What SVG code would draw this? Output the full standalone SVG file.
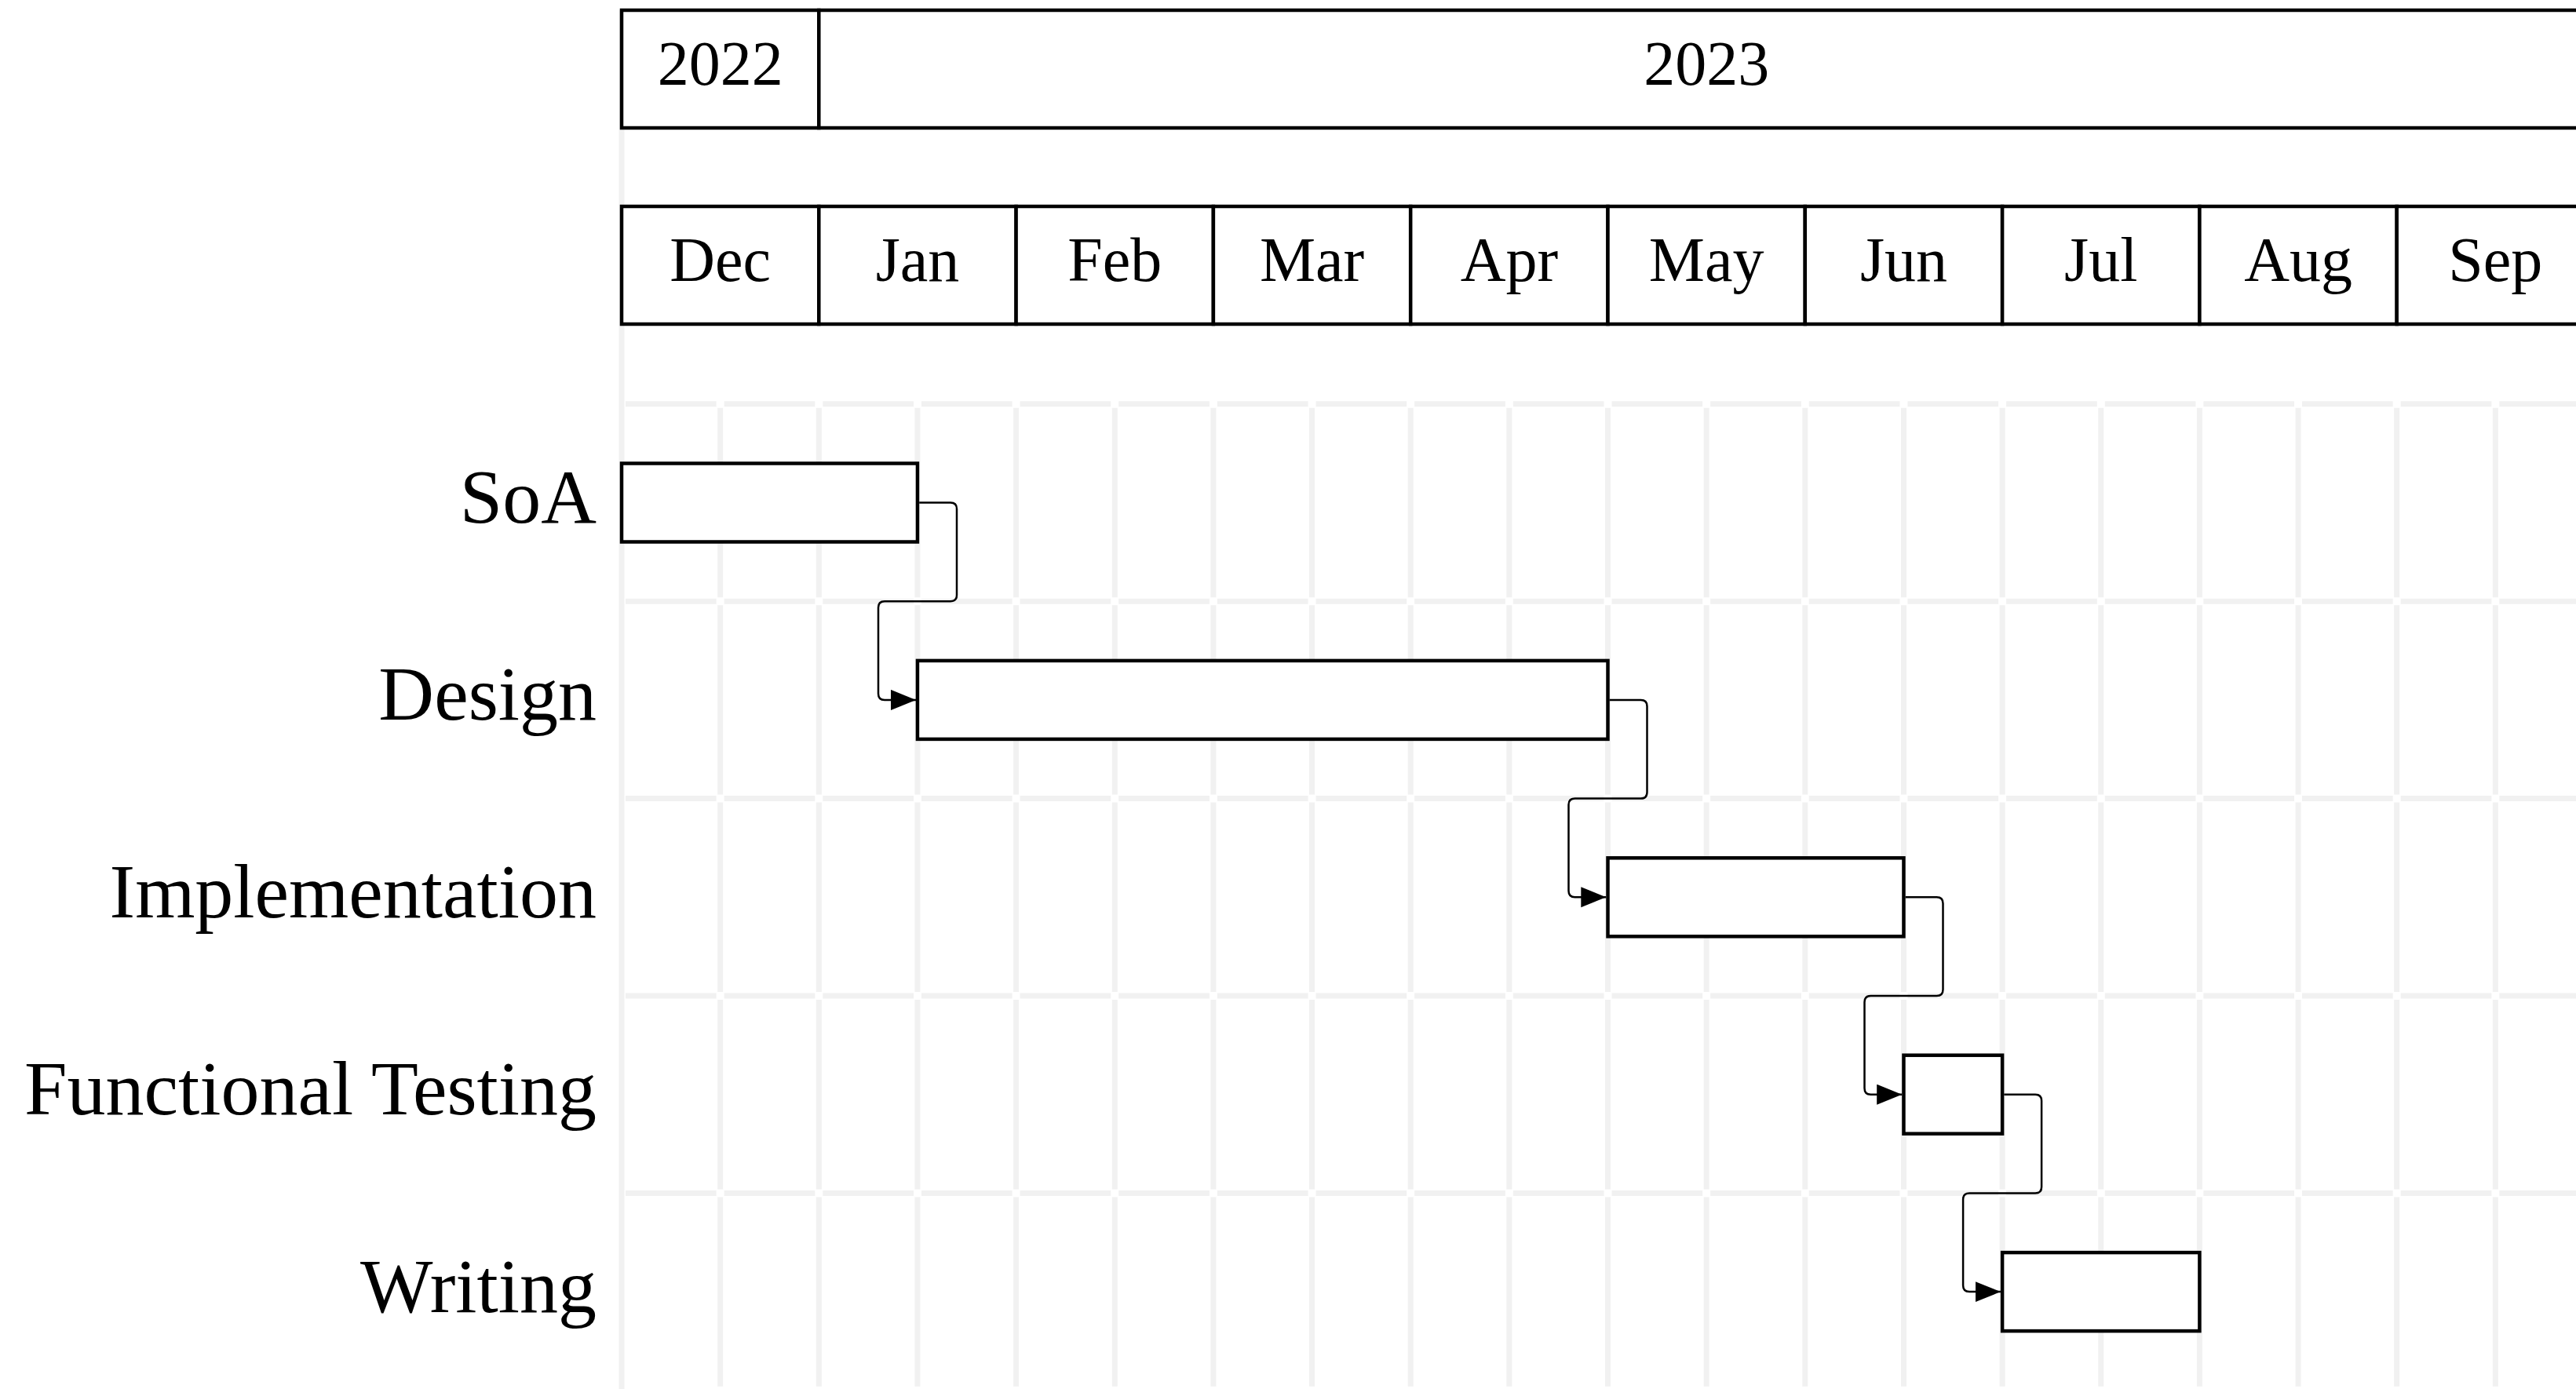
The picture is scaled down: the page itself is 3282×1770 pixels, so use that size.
<svg xmlns="http://www.w3.org/2000/svg" width="3282" height="1770" viewBox="0 0 3282 1770">
<style>
.grid{stroke:#f1f1f1;stroke-width:7;fill:none}
.vg{stroke-dasharray:241.4 10}
.hg{stroke-dasharray:115.65 10}
.hdr{fill:#fff;stroke:#000;stroke-width:4.5}
.bar{fill:#fff;stroke:#000;stroke-width:4.5}
.ht{font-family:"Liberation Serif",serif;font-size:80px;fill:#000;text-anchor:middle}
.lt{font-family:"Liberation Serif",serif;font-size:98px;fill:#000;text-anchor:end}
.con{fill:none;stroke:#000;stroke-width:2.5;stroke-linejoin:round}
</style>
<defs>
<marker id="arr" markerUnits="userSpaceOnUse" markerWidth="34" markerHeight="28" refX="32" refY="13" orient="auto">
<path d="M0,0 L32,13 L0,26 z" fill="#000"/>
</marker>
</defs>
<rect width="3282" height="1770" fill="#fff"/>
<g id="grid">
<line class="grid" x1="792" y1="13" x2="792" y2="1772"/>
<g class="grid vg">
<line x1="917.65" y1="519.8" x2="917.65" y2="1772"/>
<line x1="1043.3" y1="519.8" x2="1043.3" y2="1772"/>
<line x1="1168.95" y1="519.8" x2="1168.95" y2="1772"/>
<line x1="1294.6" y1="519.8" x2="1294.6" y2="1772"/>
<line x1="1420.25" y1="519.8" x2="1420.25" y2="1772"/>
<line x1="1545.9" y1="519.8" x2="1545.9" y2="1772"/>
<line x1="1671.55" y1="519.8" x2="1671.55" y2="1772"/>
<line x1="1797.2" y1="519.8" x2="1797.2" y2="1772"/>
<line x1="1922.85" y1="519.8" x2="1922.85" y2="1772"/>
<line x1="2048.5" y1="519.8" x2="2048.5" y2="1772"/>
<line x1="2174.15" y1="519.8" x2="2174.15" y2="1772"/>
<line x1="2299.8" y1="519.8" x2="2299.8" y2="1772"/>
<line x1="2425.45" y1="519.8" x2="2425.45" y2="1772"/>
<line x1="2551.1" y1="519.8" x2="2551.1" y2="1772"/>
<line x1="2676.75" y1="519.8" x2="2676.75" y2="1772"/>
<line x1="2802.4" y1="519.8" x2="2802.4" y2="1772"/>
<line x1="2928.05" y1="519.8" x2="2928.05" y2="1772"/>
<line x1="3053.7" y1="519.8" x2="3053.7" y2="1772"/>
<line x1="3179.35" y1="519.8" x2="3179.35" y2="1772"/>
</g>
<g class="grid hg">
<line x1="797" y1="514.8" x2="3300" y2="514.8"/>
<line x1="797" y1="766.2" x2="3300" y2="766.2"/>
<line x1="797" y1="1017.6" x2="3300" y2="1017.6"/>
<line x1="797" y1="1269" x2="3300" y2="1269"/>
<line x1="797" y1="1520.4" x2="3300" y2="1520.4"/>
</g>
</g>
<g id="header-years">
<g id="y2022"><rect class="hdr" x="792" y="13" width="251.3" height="150"/><text class="ht" x="917.65" y="108">2022</text></g>
<g id="y2023"><rect class="hdr" x="1043.3" y="13" width="2261.7" height="150"/><text class="ht" x="2174.15" y="108">2023</text></g>
</g>
<g id="header-months">
<g id="m-dec"><rect class="hdr" x="792" y="263" width="251.3" height="150"/><text class="ht" x="917.65" y="358">Dec</text></g>
<g id="m-jan"><rect class="hdr" x="1043.3" y="263" width="251.3" height="150"/><text class="ht" x="1168.95" y="358">Jan</text></g>
<g id="m-feb"><rect class="hdr" x="1294.6" y="263" width="251.3" height="150"/><text class="ht" x="1420.25" y="358">Feb</text></g>
<g id="m-mar"><rect class="hdr" x="1545.9" y="263" width="251.3" height="150"/><text class="ht" x="1671.55" y="358">Mar</text></g>
<g id="m-apr"><rect class="hdr" x="1797.2" y="263" width="251.3" height="150"/><text class="ht" x="1922.85" y="358">Apr</text></g>
<g id="m-may"><rect class="hdr" x="2048.5" y="263" width="251.3" height="150"/><text class="ht" x="2174.15" y="358">May</text></g>
<g id="m-jun"><rect class="hdr" x="2299.8" y="263" width="251.3" height="150"/><text class="ht" x="2425.45" y="358">Jun</text></g>
<g id="m-jul"><rect class="hdr" x="2551.1" y="263" width="251.3" height="150"/><text class="ht" x="2676.75" y="358">Jul</text></g>
<g id="m-aug"><rect class="hdr" x="2802.4" y="263" width="251.3" height="150"/><text class="ht" x="2928.05" y="358">Aug</text></g>
<g id="m-sep"><rect class="hdr" x="3053.7" y="263" width="251.3" height="150"/><text class="ht" x="3179.35" y="358">Sep</text></g>
</g>
<g id="task-soa"><text class="lt" x="760" y="666">SoA</text><rect class="bar" x="792" y="590.5" width="376.95" height="100"/></g>
<g id="task-design"><text class="lt" x="760" y="917.4">Design</text><rect class="bar" x="1168.95" y="841.9" width="879.55" height="100"/></g>
<g id="task-implementation"><text class="lt" x="760" y="1168.8">Implementation</text><rect class="bar" x="2048.5" y="1093.3" width="376.95" height="100"/></g>
<g id="task-functional-testing"><text class="lt" x="760" y="1420.2">Functional Testing</text><rect class="bar" x="2425.45" y="1344.7" width="125.65" height="100"/></g>
<g id="task-writing"><text class="lt" x="760" y="1671.6">Writing</text><rect class="bar" x="2551.1" y="1596.1" width="251.3" height="100"/></g>
<g id="connectors">
<path class="con" marker-end="url(#arr)" d="M1171.2,640.5 H1211 Q1219,640.5 1219,648.5 V758.2 Q1219,766.2 1211,766.2 H1127 Q1119,766.2 1119,774.2 V883.9 Q1119,891.9 1127,891.9 H1167"/>
<path class="con" marker-end="url(#arr)" d="M2050.7,891.9 H2090.5 Q2098.5,891.9 2098.5,899.9 V1009.6 Q2098.5,1017.6 2090.5,1017.6 H2006.5 Q1998.5,1017.6 1998.5,1025.6 V1135.3 Q1998.5,1143.3 2006.5,1143.3 H2046.3"/>
<path class="con" marker-end="url(#arr)" d="M2427.7,1143.3 H2467.5 Q2475.5,1143.3 2475.5,1151.3 V1261 Q2475.5,1269 2467.5,1269 H2383.5 Q2375.5,1269 2375.5,1277 V1386.7 Q2375.5,1394.7 2383.5,1394.7 H2423.2"/>
<path class="con" marker-end="url(#arr)" d="M2553.3,1394.7 H2593.1 Q2601.1,1394.7 2601.1,1402.7 V1512.4 Q2601.1,1520.4 2593.1,1520.4 H2509.1 Q2501.1,1520.4 2501.1,1528.4 V1638.1 Q2501.1,1646.1 2509.1,1646.1 H2548.9"/>
</g>
</svg>
